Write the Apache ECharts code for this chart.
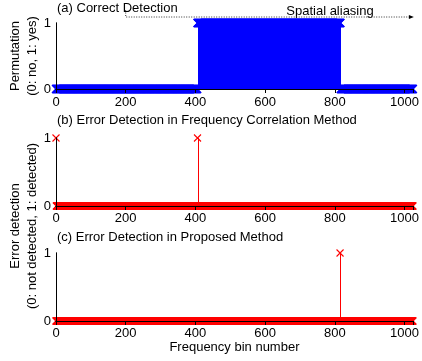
<!DOCTYPE html>
<html>
<head>
<meta charset="utf-8">
<script src="https://cdn.jsdelivr.net/npm/echarts@6/dist/echarts.min.js"></script>
<style>
  html, body { margin: 0; padding: 0; background: #fff; }
  #chart { width: 422px; height: 361px; }
</style>
</head>
<body>
<div id="chart"></div>
<script>
// data
const binMax = 1024;                 // bins 0..1024
const xTicks = [0, 200, 400, 600, 800, 1000];
const yTicks = [0, 1];
// panel (a): runs of [firstBin, lastBin, value]
const permutationRuns = [[0, 405, 0], [406, 816, 1], [817, 1024, 0]];
// panel (b), (c): bins where an error was flagged (all others 0)
const freqCorrErrors = [0, 406];
const proposedErrors = [815];

const titles = [
  '(a) Correct Detection',
  '(b) Error Detection in Frequency Correlation Method',
  '(c) Error Detection in Proposed Method'
];

function fromRuns(runs) {
  const out = [];
  runs.forEach(r => { for (let b = r[0]; b <= r[1]; b++) out.push([b, r[2]]); });
  return out;
}
function fromFlags(flags) {
  const out = [];
  for (let b = 0; b <= binMax; b++) out.push([b, flags.indexOf(b) >= 0 ? 1 : 0]);
  return out;
}
const panelData = [fromRuns(permutationRuns), fromFlags(freqCorrErrors), fromFlags(proposedErrors)];
const panelColor = ['#0000ff', '#ff0000', '#ff0000'];

const FONT = 'Liberation Sans, Arial, Helvetica, sans-serif';
const grids = [
  { left: 56, top: 23, width: 357, height: 66 },
  { left: 56, top: 138, width: 357, height: 68 },
  { left: 56, top: 253, width: 357, height: 68 }
];

const xAxes = [], yAxes = [], series = [];
grids.forEach((g, i) => {
  xAxes.push({
    type: 'value', gridIndex: i, min: 0, max: binMax, interval: 200, z: 10,
    position: 'bottom',
    axisLine: { show: true, lineStyle: { color: '#000', width: 1 } },
    axisTick: { show: false },   // hidden under the markers in the original
    splitLine: { show: false },
    axisLabel: { show: true, showMaxLabel: false, margin: i === 0 ? 7 : 6, fontSize: 13, color: '#000', fontFamily: FONT,
      formatter: v => xTicks.indexOf(v) >= 0 ? String(v) : '' },
    name: i === 2 ? 'Frequency bin number' : '',
    nameLocation: 'middle', nameGap: 17,
    nameTextStyle: { fontSize: 13, color: '#000', fontFamily: FONT }
  });
  yAxes.push({
    type: 'value', gridIndex: i, min: 0, max: 1, interval: 1, z: 10,
    position: 'left',
    axisLine: { show: true, lineStyle: { color: '#000', width: 1 } },
    axisTick: { show: false },
    splitLine: { show: false },
    axisLabel: { show: true, margin: 5, fontSize: 13, color: '#000', fontFamily: FONT,
      formatter: v => yTicks.indexOf(v) >= 0 ? String(v) : '' }
  });
});
grids.forEach((g, i) => {
  xAxes.push({
    type: 'value', gridIndex: i, min: 0, max: binMax, interval: 200, position: 'top', z: 10,
    axisLine: { show: true, lineStyle: { color: '#000', width: 1 } },
    axisTick: { show: true, inside: true, length: 4, lineStyle: { color: '#000' } },
    axisLabel: { show: false }, splitLine: { show: false }
  });
  yAxes.push({
    type: 'value', gridIndex: i, min: 0, max: 1, interval: 1, position: 'right', z: 10,
    axisLine: { show: true, lineStyle: { color: '#000', width: 1 } },
    axisTick: { show: false }, axisLabel: { show: false }, splitLine: { show: false }
  });
});

panelData.forEach((data, i) => {
  const col = panelColor[i];
  // stems
  series.push({
    type: 'custom', xAxisIndex: i, yAxisIndex: i, silent: true, z: 2,
    data: data,
    renderItem: function (params, api) {
      const v = api.value(1);
      if (!v) return null;
      const p0 = api.coord([api.value(0), 0]);
      const p1 = api.coord([api.value(0), v]);
      const sx = Math.round(p0[0]) + 0.5;   // crisp 1px stem
      return { type: 'line', shape: { x1: sx, y1: p0[1], x2: sx, y2: p1[1] },
        style: { stroke: col, lineWidth: 1 } };
    }
  });
  // x markers
  series.push({
    type: 'scatter', xAxisIndex: i, yAxisIndex: i, silent: true, clip: false, z: 3,
    data: data,
    symbol: 'path://M0,0L10,10M10,0L0,10',
    symbolSize: i === 0 ? 8 : 7,
    itemStyle: { color: 'none', borderColor: col, borderWidth: i === 0 ? 1.4 : 1.1, opacity: 1 }
  });
});

const chart = echarts.init(document.getElementById('chart'), null, { renderer: 'canvas' });
const textStyle = { fill: '#000', fontSize: 13, fontFamily: FONT };
chart.setOption({
  animation: false,
  backgroundColor: '#fff',
  grid: grids,
  xAxis: xAxes,
  yAxis: yAxes,
  series: series
});

// annotations placed from the axis scale
const x200 = chart.convertToPixel({ xAxisIndex: 0 }, 200);
const xEnd = chart.convertToPixel({ xAxisIndex: 0 }, binMax);
chart.setOption({
  graphic: [
    { type: 'text', left: 57, top: 2, style: Object.assign({ text: titles[0] }, textStyle) },
    { type: 'text', left: 57, top: 114, style: Object.assign({ text: titles[1] }, textStyle) },
    { type: 'text', left: 57, top: 231, style: Object.assign({ text: titles[2] }, textStyle) },
    { type: 'text', x: 330, y: 11, style: Object.assign({ text: 'Spatial aliasing', align: 'center', verticalAlign: 'middle' }, textStyle) },
    { type: 'polyline', shape: { points: [[x200, 10], [x200, 17], [xEnd - 3, 17]] },
      style: { stroke: '#333', lineWidth: 1, lineDash: [1, 1.5], fill: null } },
    { type: 'polygon', shape: { points: [[xEnd - 4, 15], [xEnd + 1, 17], [xEnd - 4, 19]] }, style: { fill: '#000' } },
    { type: 'text', x: 24, y: 56, rotation: Math.PI / 2,
      style: Object.assign({ text: 'Permutation\n(0: no, 1: yes)', align: 'center', verticalAlign: 'middle', lineHeight: 17 }, textStyle) },
    { type: 'text', x: 24, y: 226, rotation: Math.PI / 2,
      style: Object.assign({ text: 'Error detection\n(0: not detected, 1: detected)', align: 'center', verticalAlign: 'middle', lineHeight: 17 }, textStyle) }
  ]
});
</script>
</body>
</html>
